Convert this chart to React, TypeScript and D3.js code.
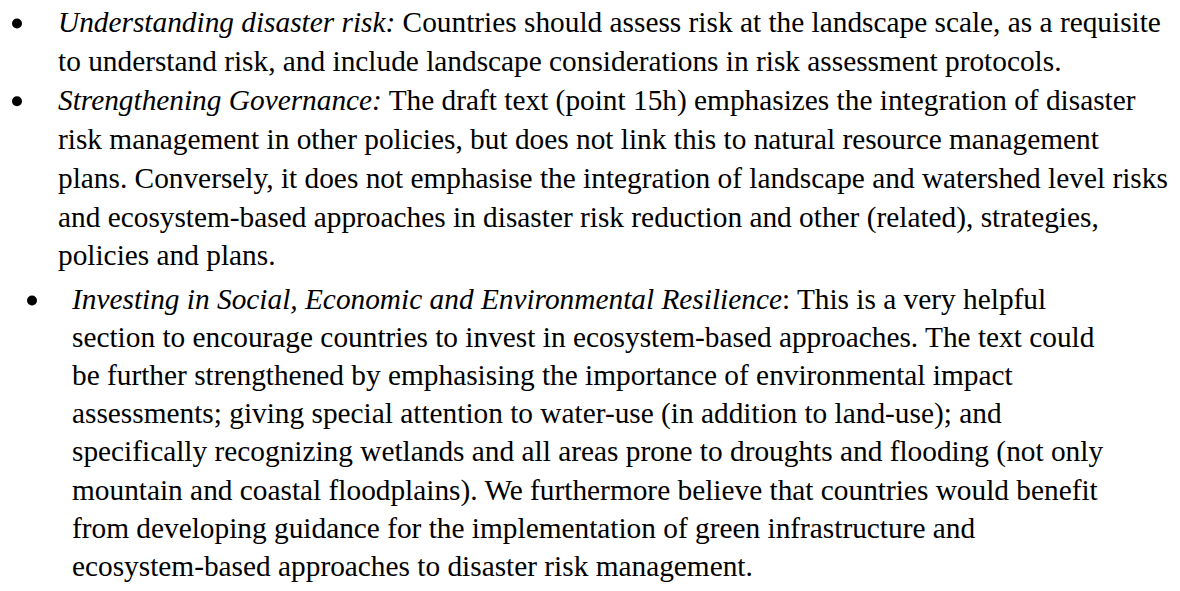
import React, { useEffect, useRef } from 'react';
import * as d3 from 'd3';

// each line: [italic part, normal part]
const item1 = [
  ['Understanding disaster risk:', ' Countries should assess risk at the landscape scale, as a requisite'],
  ['', 'to understand risk, and include landscape considerations in risk assessment protocols.'],
];
const item2 = [
  ['Strengthening Governance:', ' The draft text (point 15h) emphasizes the integration of disaster'],
  ['', 'risk management in other policies, but does not link this to natural resource management'],
  ['', 'plans. Conversely, it does not emphasise the integration of landscape and watershed level risks'],
  ['', 'and ecosystem-based approaches in disaster risk reduction and other (related), strategies,'],
  ['', 'policies and plans.'],
];
const item3 = [
  ['Investing in Social, Economic and Environmental Resilience', ': This is a very helpful'],
  ['', 'section to encourage countries to invest in ecosystem-based approaches. The text could'],
  ['', 'be further strengthened by emphasising the importance of environmental impact'],
  ['', 'assessments; giving special attention to water-use (in addition to land-use); and'],
  ['', 'specifically recognizing wetlands and all areas prone to droughts and flooding (not only'],
  ['', 'mountain and coastal floodplains). We furthermore believe that countries would benefit'],
  ['', 'from developing guidance for the implementation of green infrastructure and'],
  ['', 'ecosystem-based approaches to disaster risk management.'],
];
const items = [
  { lines: item1, indent: 0 },
  { lines: item2, indent: 0 },
  { lines: item3, indent: 1 },
];

const Doc = () => {
  const ref = useRef(null);

  useEffect(() => {
    const svg = d3.select(ref.current)
      .attr('width', 1180)
      .attr('height', 591)
      .style('background', '#fff');
    svg.selectAll('*').remove();

    // first two bullets share one paragraph style, the third one is indented and spaced a bit tighter
    const yA = d3.scaleLinear().domain([0, 1]).range([32, 70.9]);
    const yB = d3.scaleLinear().domain([0, 1]).range([309, 347.1]);
    const bulletX = d3.scaleLinear().domain([0, 1]).range([17, 32]);
    const textX = d3.scaleLinear().domain([0, 1]).range([58, 72]);

    let row = 0;
    items.forEach(it => {
      it.lines.forEach(([ital, rest], i) => {
        const yy = it.indent ? yB(i) : yA(row);
        if (i === 0) {
          svg.append('circle')
            .attr('cx', bulletX(it.indent))
            .attr('cy', yy - 8.5)
            .attr('r', 5)
            .attr('fill', '#000');
        }
        const t = svg.append('text')
          .attr('x', textX(it.indent))
          .attr('y', yy)
          .style('font-family', '"Liberation Serif", "Times New Roman", serif')
          .style('font-size', '29.33px')
          .attr('fill', '#000')
          .attr('xml:space', 'preserve');
        if (ital) t.append('tspan').style('font-style', 'italic').text(ital);
        t.append('tspan').text(rest);
        row++;
      });
    });
  }, []);

  return <svg ref={ref} style={{ position: 'absolute', left: 0, top: 0 }}></svg>;
};

export default function App() {
  return <Doc />;
}
